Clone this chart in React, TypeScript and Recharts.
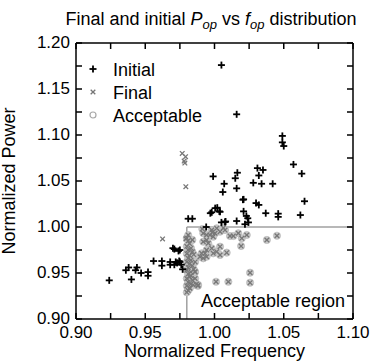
import React from "react";
import {
  ScatterChart,
  Scatter,
  XAxis,
  YAxis,
  ReferenceLine,
  Legend,
  Label,
} from "recharts";

const FONT = '"Liberation Sans", Arial, Helvetica, sans-serif';

// initial (f_op, P_op)
const INIT_F = [
  0.924, 0.936, 0.938, 0.94, 0.943, 0.944, 0.947, 0.952, 0.952, 0.956, 0.962, 0.962, 0.968,
  0.968, 0.97, 0.971, 0.972, 0.973, 0.974, 0.975, 0.975, 0.976, 0.977, 0.9745, 0.971,
  0.981, 0.984, 0.999, 1.007, 1.006, 1.0165, 1.015, 1.016, 1.021, 0.997, 0.998, 1.002,
  1.0035, 1.005, 1.008, 1.016, 1.021, 0.994, 1.005, 1.016, 1.049, 1.049, 1.05, 1.057, 1.063,
  1.065, 1.062, 1.046, 1.046, 1.037, 1.031, 1.035, 1.032, 1.028, 1.034, 1.042, 1.03, 1.032,
  1.023, 1.024, 1.0245, 1.022, 1.0076, 1.004, 1.0005, 1.0205,
];
const INIT_P = [
  0.942, 0.953, 0.956, 0.943, 0.953, 0.956, 0.95, 0.951, 0.947, 0.963, 0.963, 0.958, 0.962,
  0.959, 0.977, 0.959, 0.962, 0.961, 0.974, 0.975, 0.962, 0.959, 0.954, 0.963, 0.976,
  1.009, 1.009, 1.055, 1.047, 1.038, 1.059, 1.053, 1.042, 1.03, 1.015, 1.016, 1.021,
  1.017, 1.005, 1.006, 1.0065, 1.017, 1.0, 1.176, 1.1225, 1.099, 1.092, 1.088, 1.068, 1.058,
  1.028, 1.013, 1.0145, 1.011, 1.015, 1.064, 1.062, 1.056, 1.048, 1.047, 1.047, 1.026, 1.024,
  1.012, 1.0095, 1.005, 1.003, 1.0054, 1.0165, 1.0205, 1.0297,
];

// final points outside the acceptable region
const OUT_F = [0.9767, 0.9791, 0.9781, 0.9786, 0.9793, 0.9625, 0.9793];
const OUT_P = [1.08, 1.0764, 1.0717, 1.0695, 1.0438, 0.987, 0.987];

// final points inside the acceptable region
const ACC_F = [
  0.98, 0.981, 0.982, 0.98, 0.983, 0.981, 0.984, 0.98, 0.982, 0.981, 0.983, 0.98, 0.982,
  0.984, 0.981, 0.98, 0.983, 0.981, 0.982, 0.98, 0.984, 0.981, 0.983, 0.98, 0.982, 0.981,
  0.98, 0.983, 0.985, 0.986, 0.986, 0.985, 0.984, 0.986, 0.987, 0.988, 0.9859, 0.9882,
  0.9846, 0.9822, 0.981,
  0.9912, 0.9919, 0.9943, 0.998, 1.0004, 1.0016, 1.004, 1.0064, 1.0076, 1.0112, 1.0136,
  1.0172, 1.0197, 1.0233, 1.0192, 1.0378, 1.0451, 0.9967, 0.9991, 0.9984, 0.9919, 0.9943,
  0.9955, 0.9907, 0.9943, 0.998, 0.9991, 1.0016, 1.004, 1.0088, 0.9931, 1.004, 0.9895,
  0.9919, 0.9943, 1.0011, 1.01, 1.0257, 1.0257,
];
const ACC_P = [
  0.988, 0.985, 0.982, 0.979, 0.977, 0.975, 0.973, 0.971, 0.969, 0.966, 0.964, 0.962, 0.96,
  0.958, 0.956, 0.953, 0.951, 0.949, 0.946, 0.944, 0.942, 0.94, 0.938, 0.936, 0.934, 0.931,
  0.929, 0.947, 0.954, 0.944, 0.962, 0.97, 0.986, 0.951, 0.938, 0.936, 0.9514, 0.937,
  0.937, 0.9334, 0.9913,
  0.9978, 0.9932, 0.9913, 0.9967, 0.9932, 0.9986, 0.9949, 0.999, 0.9967, 0.9902, 0.9902,
  0.9932, 0.9877, 0.9913, 0.9793, 0.9859, 0.9905, 0.9913, 0.9895, 0.9942, 0.984, 0.9859,
  0.9823, 0.9714, 0.975, 0.9768, 0.9714, 0.9732, 0.9786, 0.9721, 0.9714, 0.9696, 0.9677,
  0.966, 0.9677, 0.9405, 0.9405, 0.9503, 0.9395,
];

const X_TICKS = [0.9, 0.925, 0.95, 0.975, 1.0, 1.025, 1.05, 1.075, 1.1];
const Y_TICKS = [0.9, 0.925, 0.95, 0.975, 1.0, 1.025, 1.05, 1.075, 1.1, 1.125, 1.15, 1.175, 1.2];

const toPts = (fs: number[], ps: number[]) => fs.map((f, i) => ({ f, p: ps[i] }));
const initialData = toPts(INIT_F, INIT_P);
const acceptData = toPts(ACC_F, ACC_P);
const finalData = toPts(OUT_F.concat(ACC_F), OUT_P.concat(ACC_P));

// plot box edges (margins + axis sizes below)
const LEFT = 76;
const RIGHT = 353;
const TOP = 43;
const BOTTOM = 319;

const isMajor = (v: number) => Math.round(v * 1000) % 50 === 0;
const TL = 6;

const BottomTick = (props: any) => {
  const { x, payload } = props;
  return (
    <g>
      <line x1={x} y1={BOTTOM} x2={x} y2={BOTTOM - TL} stroke="#000" strokeWidth={1.5} />
      <line x1={x} y1={TOP} x2={x} y2={TOP + TL} stroke="#000" strokeWidth={1.5} />
      {isMajor(payload.value) && (
        <text x={x} y={BOTTOM + 19} textAnchor="middle" fontSize={17} fontFamily={FONT} fill="#000">
          {payload.value.toFixed(2)}
        </text>
      )}
    </g>
  );
};
const LeftTick = (props: any) => {
  const { y, payload } = props;
  return (
    <g>
      <line x1={LEFT} y1={y} x2={LEFT + TL} y2={y} stroke="#000" strokeWidth={1.5} />
      <line x1={RIGHT} y1={y} x2={RIGHT - TL} y2={y} stroke="#000" strokeWidth={1.5} />
      {isMajor(payload.value) && (
        <text x={LEFT - 6} y={y + 4.5} textAnchor="end" fontSize={17} fontFamily={FONT} fill="#000">
          {payload.value.toFixed(2)}
        </text>
      )}
    </g>
  );
};

const PlusShape = (props: any) => {
  const { cx, cy } = props;
  return (
    <g stroke="#000" strokeWidth={1.8}>
      <line x1={cx - 3.5} y1={cy} x2={cx + 3.5} y2={cy} />
      <line x1={cx} y1={cy - 3.5} x2={cx} y2={cy + 3.5} />
    </g>
  );
};
const CrossShape = (props: any) => {
  const { cx, cy } = props;
  return (
    <g stroke="#777" strokeWidth={1.3}>
      <line x1={cx - 2.3} y1={cy - 2.3} x2={cx + 2.3} y2={cy + 2.3} />
      <line x1={cx - 2.3} y1={cy + 2.3} x2={cx + 2.3} y2={cy - 2.3} />
    </g>
  );
};
const CircleShape = (props: any) => (
  <circle cx={props.cx} cy={props.cy} r={3.6} fill="#c8c8c8" stroke="#bdbdbd" strokeWidth={0.8} />
);

const renderLegend = () => {
  const rows = [
    { label: "Initial", kind: "plus" },
    { label: "Final", kind: "cross" },
    { label: "Acceptable", kind: "circle" },
  ];
  return (
    <svg width={140} height={72}>
      {rows.map((r, i) => {
        const cy = 10 + i * 23;
        return (
          <g key={r.label}>
            {r.kind === "plus" && <PlusShape cx={9} cy={cy} />}
            {r.kind === "cross" && <CrossShape cx={9} cy={cy} />}
            {r.kind === "circle" && (
              <circle cx={9} cy={cy} r={3} fill="#fff" stroke="#a8a8a8" strokeWidth={1.2} />
            )}
            <text x={29} y={cy + 6.5} fontSize={18} fontFamily={FONT} fill="#000">
              {r.label}
            </text>
          </g>
        );
      })}
    </svg>
  );
};

export default function App() {
  return (
    <div style={{ width: 370, height: 362, background: "#fff" }}>
      <style>{"body{margin:0}"}</style>
      <ScatterChart width={370} height={362} margin={{ top: TOP, right: 370 - RIGHT, bottom: 0, left: 0 }}>
        <XAxis
          xAxisId="b"
          type="number"
          dataKey="f"
          domain={[0.9, 1.1]}
          ticks={X_TICKS}
          interval={0}
          height={362 - BOTTOM}
          tickSize={0}
          tickMargin={0}
          tickLine={false}
          tick={BottomTick}
          axisLine={{ stroke: "#000", strokeWidth: 1.5 }}
          allowDataOverflow
        >
          <Label
            value="Normalized Frequency"
            position="insideBottom"
            offset={5}
            fontSize={18}
            fontFamily={FONT}
            fill="#000"
          />
        </XAxis>
        <YAxis
          yAxisId="l"
          type="number"
          dataKey="p"
          domain={[0.9, 1.2]}
          ticks={Y_TICKS}
          interval={0}
          width={LEFT}
          tickSize={0}
          tickMargin={0}
          tickLine={false}
          tick={LeftTick}
          axisLine={{ stroke: "#000", strokeWidth: 1.5 }}
          allowDataOverflow
        >
          <Label
            content={() => (
              <text
                x={15}
                y={181}
                transform="rotate(-90, 15, 181)"
                textAnchor="middle"
                fontSize={18}
                fontFamily={FONT}
                fill="#000"
              >
                Normalized Power
              </text>
            )}
          />
          <Label
            content={() => (
              <text x={211} y={25} textAnchor="middle" fontSize={18} fontFamily={FONT} fill="#000">
                Final and initial <tspan fontStyle="italic">P</tspan>
                <tspan fontSize={13} fontStyle="italic" dy={4}>op</tspan>
                <tspan dy={-4}> vs </tspan>
                <tspan fontStyle="italic">f</tspan>
                <tspan fontSize={13} fontStyle="italic" dy={4}>op</tspan>
                <tspan dy={-4}> distribution</tspan>
              </text>
            )}
          />
        </YAxis>
        {/* frame: top and right edges */}
        <ReferenceLine
          xAxisId="b"
          yAxisId="l"
          y={1.2}
          stroke="#000"
          strokeWidth={1.5}
          ifOverflow="visible"
        />
        <ReferenceLine
          xAxisId="b"
          yAxisId="l"
          x={1.1}
          stroke="#000"
          strokeWidth={1.5}
          ifOverflow="visible"
        />
        <ReferenceLine
          xAxisId="b"
          yAxisId="l"
          segment={[
            { x: 0.98, y: 0.9 },
            { x: 0.98, y: 1.0 },
          ]}
          stroke="#a0a0a0"
          strokeWidth={1.5}
        />
        <ReferenceLine
          xAxisId="b"
          yAxisId="l"
          segment={[
            { x: 0.98, y: 1.0 },
            { x: 1.1, y: 1.0 },
          ]}
          stroke="#a0a0a0"
          strokeWidth={1.5}
        />
        <ReferenceLine
          xAxisId="b"
          yAxisId="l"
          y={0.913}
          stroke="none"
          label={() => (
            <text x={345} y={307} textAnchor="end" fontSize={18} fontFamily={FONT} fill="#000">
              Acceptable region
            </text>
          )}
        />
        <Scatter
          name="Acceptable"
          xAxisId="b"
          yAxisId="l"
          data={acceptData}
          shape={CircleShape}
          isAnimationActive={false}
        />
        <Scatter
          name="Final"
          xAxisId="b"
          yAxisId="l"
          data={finalData}
          shape={CrossShape}
          isAnimationActive={false}
        />
        <Scatter
          name="Initial"
          xAxisId="b"
          yAxisId="l"
          data={initialData}
          shape={PlusShape}
          isAnimationActive={false}
        />
        <Legend
          layout="vertical"
          align="center"
          verticalAlign="middle"
          content={renderLegend}
          wrapperStyle={{ left: 84, top: 59, width: 140, height: 72 }}
        />
      </ScatterChart>
    </div>
  );
}
